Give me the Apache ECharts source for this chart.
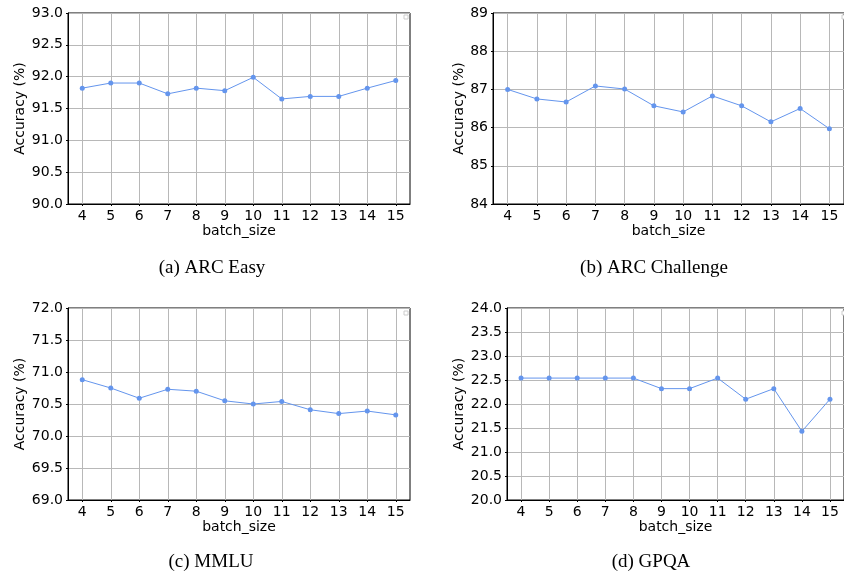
<!DOCTYPE html>
<html>
<head>
<meta charset="utf-8">
<script src="https://cdn.jsdelivr.net/npm/echarts@6/dist/echarts.min.js"></script>
<style>
  html, body { margin: 0; padding: 0; background: #fff; }
  #main { width: 844px; height: 575px; }
</style>
</head>
<body>
<div id="main"></div>
<script>
  // batch sizes on x axis
  var batchSizes = ['4', '5', '6', '7', '8', '9', '10', '11', '12', '13', '14', '15'];

  // accuracy (%) per benchmark
  var arcEasy      = [91.82, 91.90, 91.90, 91.73, 91.82, 91.78, 91.99, 91.65, 91.69, 91.69, 91.82, 91.94];
  var arcChallenge = [87.00, 86.75, 86.67, 87.09, 87.01, 86.57, 86.41, 86.83, 86.57, 86.15, 86.50, 85.97];
  var mmlu         = [70.88, 70.75, 70.59, 70.73, 70.70, 70.55, 70.50, 70.54, 70.41, 70.35, 70.39, 70.33];
  var gpqa         = [22.54, 22.54, 22.54, 22.54, 22.54, 22.32, 22.32, 22.54, 22.10, 22.32, 21.43, 22.10];

  // y axis ranges [min, max, step]
  var arcEasyRange = [90, 93, 0.5];
  var arcChallengeRange = [84, 89, 1];
  var mmluRange = [69, 72, 0.5];
  var gpqaRange = [20, 24, 0.5];

  var captions = ['(a) ARC Easy', '(b) ARC Challenge', '(c) MMLU', '(d) GPQA'];

  var FONT = 'DejaVu Sans';
  var LINE_COLOR = '#6495ED';
  var GRID_COLOR = '#b8b8b8';

  var grids = [
    { left: 68,  top: 13,  width: 342, height: 191 },
    { left: 493, top: 13,  width: 357, height: 191 },
    { left: 68,  top: 308, width: 342, height: 192 },
    { left: 507, top: 308, width: 343, height: 192 }
  ];

  function xAxisFor(i) {
    return {
      type: 'category',
      gridIndex: i,
      data: batchSizes,
      boundaryGap: true,
      name: 'batch_size',
      nameLocation: 'middle',
      nameGap: 20,
      nameTextStyle: { fontFamily: FONT, fontSize: 14, color: '#000' },
      axisLine: { lineStyle: { color: '#000', width: 1 } },
      axisTick: { show: true, alignWithLabel: true, length: 2, lineStyle: { color: '#000' } },
      axisLabel: { fontFamily: FONT, fontSize: 14, color: '#000', margin: 5, interval: 0 },
      splitLine: { show: true, alignWithLabel: true, interval: 0, lineStyle: { color: GRID_COLOR, width: 1 } }
    };
  }

  function yAxisFor(i, range, decimals, gap) {
    return {
      type: 'value',
      gridIndex: i,
      min: range[0],
      max: range[1],
      interval: range[2],
      name: 'Accuracy (%)',
      nameLocation: 'middle',
      nameGap: gap,
      nameTextStyle: { fontFamily: FONT, fontSize: 14, color: '#000' },
      axisLine: { show: true, lineStyle: { color: '#000', width: 1 } },
      axisTick: { show: true, length: 2, lineStyle: { color: '#000' } },
      axisLabel: {
        fontFamily: FONT, fontSize: 14, color: '#000', margin: 5,
        formatter: function (v) { return v.toFixed(decimals); }
      },
      splitLine: { show: true, lineStyle: { color: GRID_COLOR, width: 1 } }
    };
  }

  function seriesFor(i, data) {
    return {
      type: 'line',
      xAxisIndex: i,
      yAxisIndex: i,
      data: data,
      symbol: 'circle',
      symbolSize: 5,
      lineStyle: { color: LINE_COLOR, width: 1 },
      itemStyle: { color: LINE_COLOR },
      animation: false
    };
  }

  var captionPos = [[212, 268], [654, 268], [211, 562], [651, 562]];
  var graphics = captions.map(function (t, i) {
    return {
      type: 'text',
      x: captionPos[i][0],
      y: captionPos[i][1],
      style: {
        text: t,
        fontFamily: 'Liberation Serif',
        fontSize: 19,
        fill: '#000',
        textAlign: 'center',
        textVerticalAlign: 'middle'
      }
    };
  });
  // empty legend boxes in upper right corners
  [[404, 15], [842, 15], [404, 311], [842, 311]].forEach(function (p) {
    graphics.push({
      type: 'rect',
      shape: { x: p[0], y: p[1], width: 4, height: 4 },
      style: { fill: '#fff', stroke: '#cccccc', lineWidth: 1 }
    });
  });

  var chart = echarts.init(document.getElementById('main'), null, { renderer: 'canvas' });
  chart.setOption({
    animation: false,
    backgroundColor: '#fff',
    grid: grids.map(function (g) {
      return Object.assign({ show: true, borderColor: '#000', borderWidth: 1, backgroundColor: 'transparent' }, g);
    }),
    xAxis: [xAxisFor(0), xAxisFor(1), xAxisFor(2), xAxisFor(3)],
    yAxis: [
      yAxisFor(0, arcEasyRange, 1, 41),
      yAxisFor(1, arcChallengeRange, 0, 26),
      yAxisFor(2, mmluRange, 1, 41),
      yAxisFor(3, gpqaRange, 1, 41)
    ],
    series: [
      seriesFor(0, arcEasy),
      seriesFor(1, arcChallenge),
      seriesFor(2, mmlu),
      seriesFor(3, gpqa)
    ],
    graphic: graphics
  });
</script>
</body>
</html>
